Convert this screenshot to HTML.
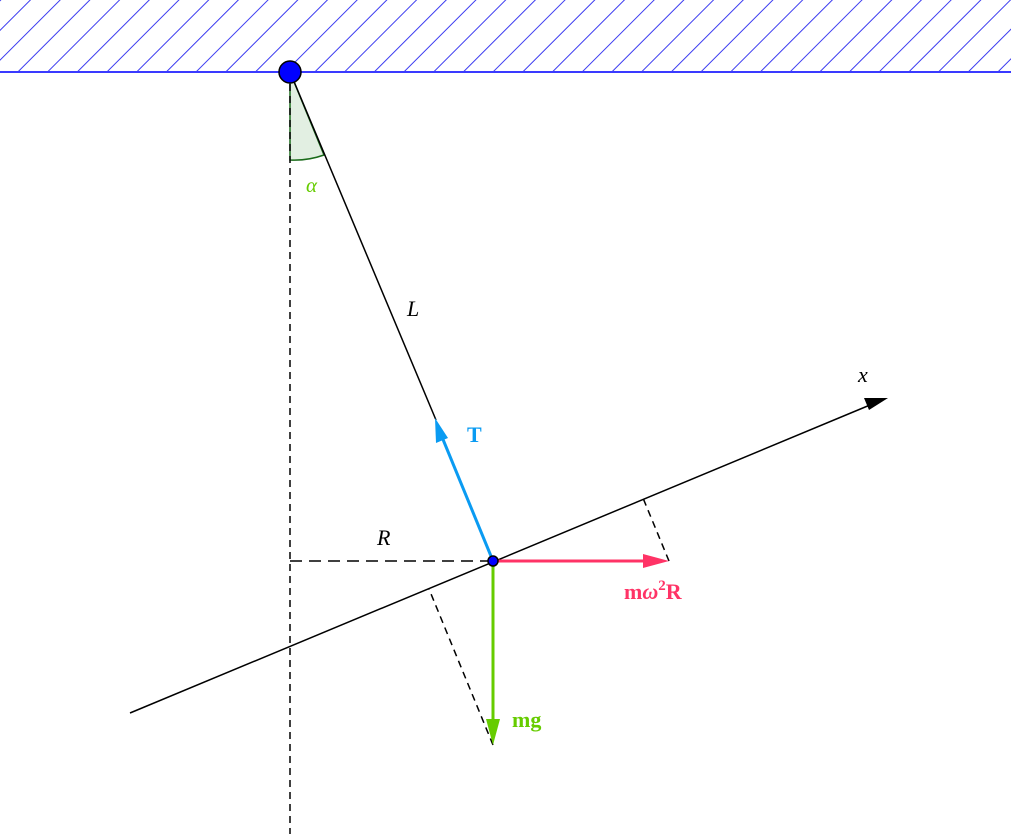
<!DOCTYPE html>
<html><head><style>html,body{margin:0;padding:0;background:#fff}svg{display:block}</style></head><body>
<svg width="1011" height="834" viewBox="0 0 1011 834" xmlns="http://www.w3.org/2000/svg" font-family="Liberation Serif, serif">
<defs>
<pattern id="h" patternUnits="userSpaceOnUse" width="21" height="21" patternTransform="rotate(45)">
<line x1="0" y1="0" x2="0" y2="21" stroke="#3c3cf0" stroke-width="2"/>
</pattern>
</defs>
<rect x="0" y="0" width="1011" height="72" fill="url(#h)"/>
<line x1="0" y1="72" x2="1011" y2="72" stroke="#3a3aff" stroke-width="2"/>
<path d="M290,72 L290,160 A88,88 0 0 0 324,155 Z" fill="#e2efe2" stroke="#1a6b1a" stroke-width="1.5"/>
<line x1="290" y1="72" x2="290" y2="834" stroke="#000" stroke-width="1.5" stroke-dasharray="7,5"/>
<line x1="290" y1="561" x2="493" y2="561" stroke="#000" stroke-width="1.5" stroke-dasharray="12,7"/>
<line x1="669" y1="561" x2="643" y2="498" stroke="#000" stroke-width="1.5" stroke-dasharray="7,5"/>
<line x1="493" y1="745" x2="429" y2="589" stroke="#000" stroke-width="1.5" stroke-dasharray="7,5"/>
<line x1="290" y1="72" x2="436" y2="420" stroke="#000" stroke-width="1.5"/>
<line x1="130" y1="713" x2="870" y2="405" stroke="#000" stroke-width="1.5"/>
<polygon points="888,398 864,398 869,410" fill="#000"/>
<line x1="493" y1="561" x2="442" y2="437" stroke="#0a9bf2" stroke-width="3"/>
<polygon points="435,418 436,443 448,438" fill="#0a9bf2"/>
<line x1="493" y1="561" x2="652" y2="561" stroke="#ff3366" stroke-width="3"/>
<polygon points="669,561 643,554 643,568" fill="#ff3366"/>
<line x1="493" y1="561" x2="493" y2="727" stroke="#66cc00" stroke-width="3"/>
<polygon points="493,745 486,719 500,719" fill="#66cc00"/>
<circle cx="290" cy="72" r="11" fill="#0000ff" stroke="#000" stroke-width="1.5"/>
<circle cx="493" cy="561" r="5" fill="#0000ff" stroke="#000" stroke-width="1.5"/>
<text x="306" y="192" font-size="21" font-style="italic" fill="#66cc00">α</text>
<text x="407" y="316" font-size="22" font-style="italic">L</text>
<text x="377" y="545" font-size="22" font-style="italic">R</text>
<text x="858" y="382" font-size="22" font-style="italic">x</text>
<text x="467" y="442" font-size="22" font-weight="bold" fill="#0a9bf2">T</text>
<text x="624" y="599" font-size="22" font-weight="bold" fill="#ff3366">m<tspan font-style="italic">ω</tspan><tspan font-size="15" dy="-9">2</tspan><tspan dy="9">R</tspan></text>
<text x="512" y="727" font-size="22" font-weight="bold" fill="#66cc00">mg</text>
</svg>
</body></html>
